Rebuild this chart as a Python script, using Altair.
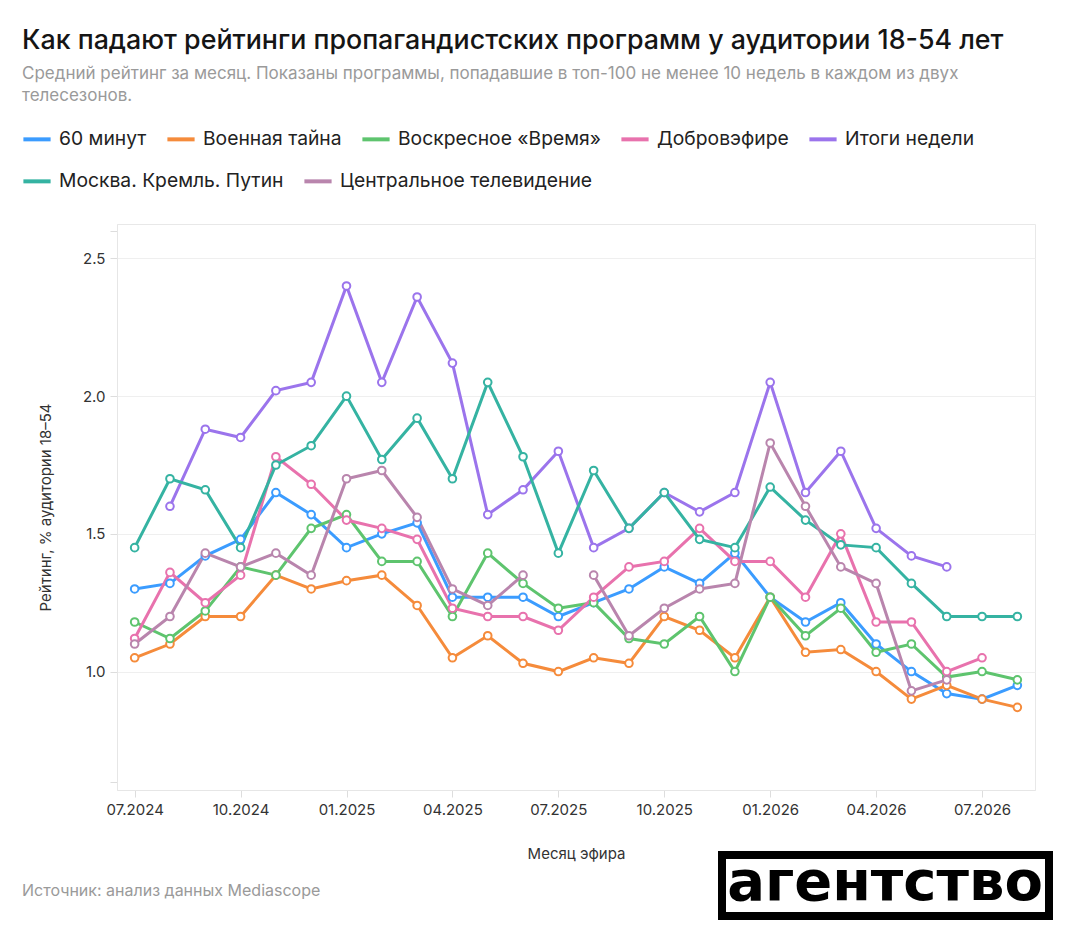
import json
import altair as alt
import pandas as pd

FONT = "Inter"

months = ["07.2024", "08.2024", "09.2024", "10.2024", "11.2024", "12.2024",
          "01.2025", "02.2025", "03.2025", "04.2025", "05.2025", "06.2025",
          "07.2025", "08.2025", "09.2025", "10.2025", "11.2025", "12.2025",
          "01.2026", "02.2026", "03.2026", "04.2026", "05.2026", "06.2026",
          "07.2026", "08.2026"]

series_names = ["60 минут", "Военная тайна", "Воскресное «Время»", "Добровэфире",
                "Итоги недели", "Москва. Кремль. Путин", "Центральное телевидение"]
colors = ["#3b9cff", "#f58b3b", "#5ec46e", "#e872ad", "#9b74ec", "#35b3a2", "#b985ad"]

s_60min = [1.30, 1.32, 1.42, 1.48, 1.65, 1.57, 1.45, 1.50, 1.54, 1.27, 1.27, 1.27, 1.20,
           1.25, 1.30, 1.38, 1.32, 1.43, 1.27, 1.18, 1.25, 1.10, 1.00, 0.92, 0.90, 0.95]
s_voen = [1.05, 1.10, 1.20, 1.20, 1.35, 1.30, 1.33, 1.35, 1.24, 1.05, 1.13, 1.03, 1.00,
          1.05, 1.03, 1.20, 1.15, 1.05, 1.27, 1.07, 1.08, 1.00, 0.90, 0.95, 0.90, 0.87]
s_vremya = [1.18, 1.12, 1.22, 1.38, 1.35, 1.52, 1.57, 1.40, 1.40, 1.20, 1.43, 1.32, 1.23,
            1.25, 1.12, 1.10, 1.20, 1.00, 1.27, 1.13, 1.23, 1.07, 1.10, 0.98, 1.00, 0.97]
s_dobro = [1.12, 1.36, 1.25, 1.35, 1.78, 1.68, 1.55, 1.52, 1.48, 1.23, 1.20, 1.20, 1.15,
           1.27, 1.38, 1.40, 1.52, 1.40, 1.40, 1.27, 1.50, 1.18, 1.18, 1.00, 1.05, None]
s_itogi = [None, 1.60, 1.88, 1.85, 2.02, 2.05, 2.40, 2.05, 2.36, 2.12, 1.57, 1.66, 1.80,
           1.45, 1.52, 1.65, 1.58, 1.65, 2.05, 1.65, 1.80, 1.52, 1.42, 1.38, None, None]
s_mkp = [1.45, 1.70, 1.66, 1.45, 1.75, 1.82, 2.00, 1.77, 1.92, 1.70, 2.05, 1.78, 1.43,
         1.73, 1.52, 1.65, 1.48, 1.45, 1.67, 1.55, 1.46, 1.45, 1.32, 1.20, 1.20, 1.20]
s_ctv = [1.10, 1.20, 1.43, 1.38, 1.43, 1.35, 1.70, 1.73, 1.56, 1.30, 1.24, 1.35, None,
         1.35, 1.13, 1.23, 1.30, 1.32, 1.83, 1.60, 1.38, 1.32, 0.93, 0.97, None, None]

all_series = [s_60min, s_voen, s_vremya, s_dobro, s_itogi, s_mkp, s_ctv]

rows = []
for name, vals in zip(series_names, all_series):
    for i, v in enumerate(vals):
        rows.append({"m": i, "month": months[i], "show": name, "v": v})
df = pd.DataFrame(rows)

row1_names, row2_names = series_names[:5], series_names[5:]
row1_colors, row2_colors = colors[:5], colors[5:]
df_a = df[df["show"].isin(row1_names)]
df_b = df[df["show"].isin(row2_names)]

tick_labels = months[::3]
tick_values = list(range(0, 25, 3))

title_text = "Как падают рейтинги пропагандистских программ у аудитории 18-54 лет"
subtitle_1 = "Средний рейтинг за месяц. Показаны программы, попадавшие в топ-100 не менее 10 недель в каждом из двух"
subtitle_2 = "телесезонов."
source_text = "Источник: анализ данных Mediascope"
logo_text = "агентство"

x_enc = alt.X(
    "m:Q",
    scale=alt.Scale(domain=[-0.5, 25.5], nice=False, zero=False),
    axis=alt.Axis(
        values=tick_values,
        labelExpr=json.dumps(tick_labels) + "[round(datum.value / 3)]",
        title="Месяц эфира",
        grid=False,
        tickSize=7, tickColor="#dddddd", domainColor="#e6e6e6",
        labelFont=FONT, labelFontSize=15, labelColor="#333333", labelPadding=5,
        titleFont=FONT, titleFontSize=15, titleFontWeight="normal",
        titleColor="#333333", titlePadding=29,
    ),
)
y_enc = alt.Y(
    "v:Q",
    scale=alt.Scale(domain=[0.57, 2.625], nice=False, zero=False),
    axis=alt.Axis(
        values=[0.6, 1.0, 1.5, 2.0, 2.5, 2.6],
        format=".1f",
        labelExpr="(datum.value < 0.9 || datum.value > 2.55) ? '' : datum.label",
        title="Рейтинг, % аудитории 18–54",
        gridColor="#efefef",
        gridOpacity={"condition": {"test": "datum.value < 0.9 || datum.value > 2.55", "value": 0}, "value": 1},
        tickSize=7, tickColor="#dddddd", domainColor="#e6e6e6",
        labelFont=FONT, labelFontSize=15, labelColor="#333333", labelPadding=5,
        titleFont=FONT, titleFontSize=15, titleFontWeight="normal",
        titleColor="#333333", titlePadding=29,
    ),
)


def legend_at(y):
    return alt.Legend(
        orient="none", legendX=-96, legendY=y,
        direction="horizontal", title=None,
        symbolType="stroke", symbolSize=740, symbolStrokeWidth=4,
        labelFont=FONT, labelFontSize=19.3, labelColor="#222222",
        labelOffset=6, columnPadding=12, padding=0, labelLimit=0,
    )


lines_a = alt.Chart(df_a).mark_line(strokeWidth=3, interpolate="linear").encode(
    x=x_enc,
    y=y_enc,
    color=alt.Color("show:N", scale=alt.Scale(domain=row1_names, range=row1_colors),
                    sort=row1_names, legend=legend_at(-101)),
    detail="show:N",
)

lines_b = alt.Chart(df_b).mark_line(strokeWidth=3, interpolate="linear").encode(
    x="m:Q",
    y="v:Q",
    color=alt.Color("show:N", scale=alt.Scale(domain=row2_names, range=row2_colors),
                    sort=row2_names, legend=legend_at(-59)),
    detail="show:N",
)

points = alt.Chart(df).transform_filter("isValid(datum.v)").mark_point(
    filled=True, fill="white", size=58, strokeWidth=2, shape="circle", opacity=1
).encode(
    x="m:Q",
    y="v:Q",
    stroke=alt.Stroke("show:N", scale=alt.Scale(domain=series_names, range=colors), legend=None),
)

one = pd.DataFrame({"k": [0]})

title = alt.Chart(one).mark_text(
    align="left", baseline="alphabetic", font=FONT, fontSize=26.8, fontWeight=500, color="#151515"
).encode(x=alt.value(-95), y=alt.value(-175), text=alt.value(title_text))

sub1 = alt.Chart(one).mark_text(
    align="left", baseline="alphabetic", font=FONT, fontSize=17, color="#9a9a9a"
).encode(x=alt.value(-95), y=alt.value(-145), text=alt.value(subtitle_1))

sub2 = alt.Chart(one).mark_text(
    align="left", baseline="alphabetic", font=FONT, fontSize=17, color="#9a9a9a"
).encode(x=alt.value(-95), y=alt.value(-123), text=alt.value(subtitle_2))

source = alt.Chart(one).mark_text(
    align="left", baseline="alphabetic", font=FONT, fontSize=16, color="#9a9a9a"
).encode(x=alt.value(-95), y=alt.value(672), text=alt.value(source_text))

logo_box = alt.Chart(one).mark_rect(
    fill="white", fillOpacity=0, stroke="black", strokeWidth=8
).encode(x=alt.value(605), x2=alt.value(932), y=alt.value(631), y2=alt.value(692))

logo = alt.Chart(one).mark_text(
    align="center", baseline="middle", font="DejaVu Sans", fontSize=56, fontWeight="bold", color="black"
).encode(x=alt.value(768), y=alt.value(659), text=alt.value(logo_text))

chart = alt.layer(lines_a, lines_b, points, title, sub1, sub2, source, logo_box, logo).resolve_scale(
    color="independent"
).properties(
    width=918,
    height=566,
    autosize=alt.AutoSizeParams(type="none"),
    padding={"left": 109, "top": 216, "right": 30, "bottom": 135},
    background="white",
).configure_view(
    stroke="#e8e8e8", strokeWidth=1
)

chart.save("out.html", embed_options={"renderer": "svg", "actions": False})
